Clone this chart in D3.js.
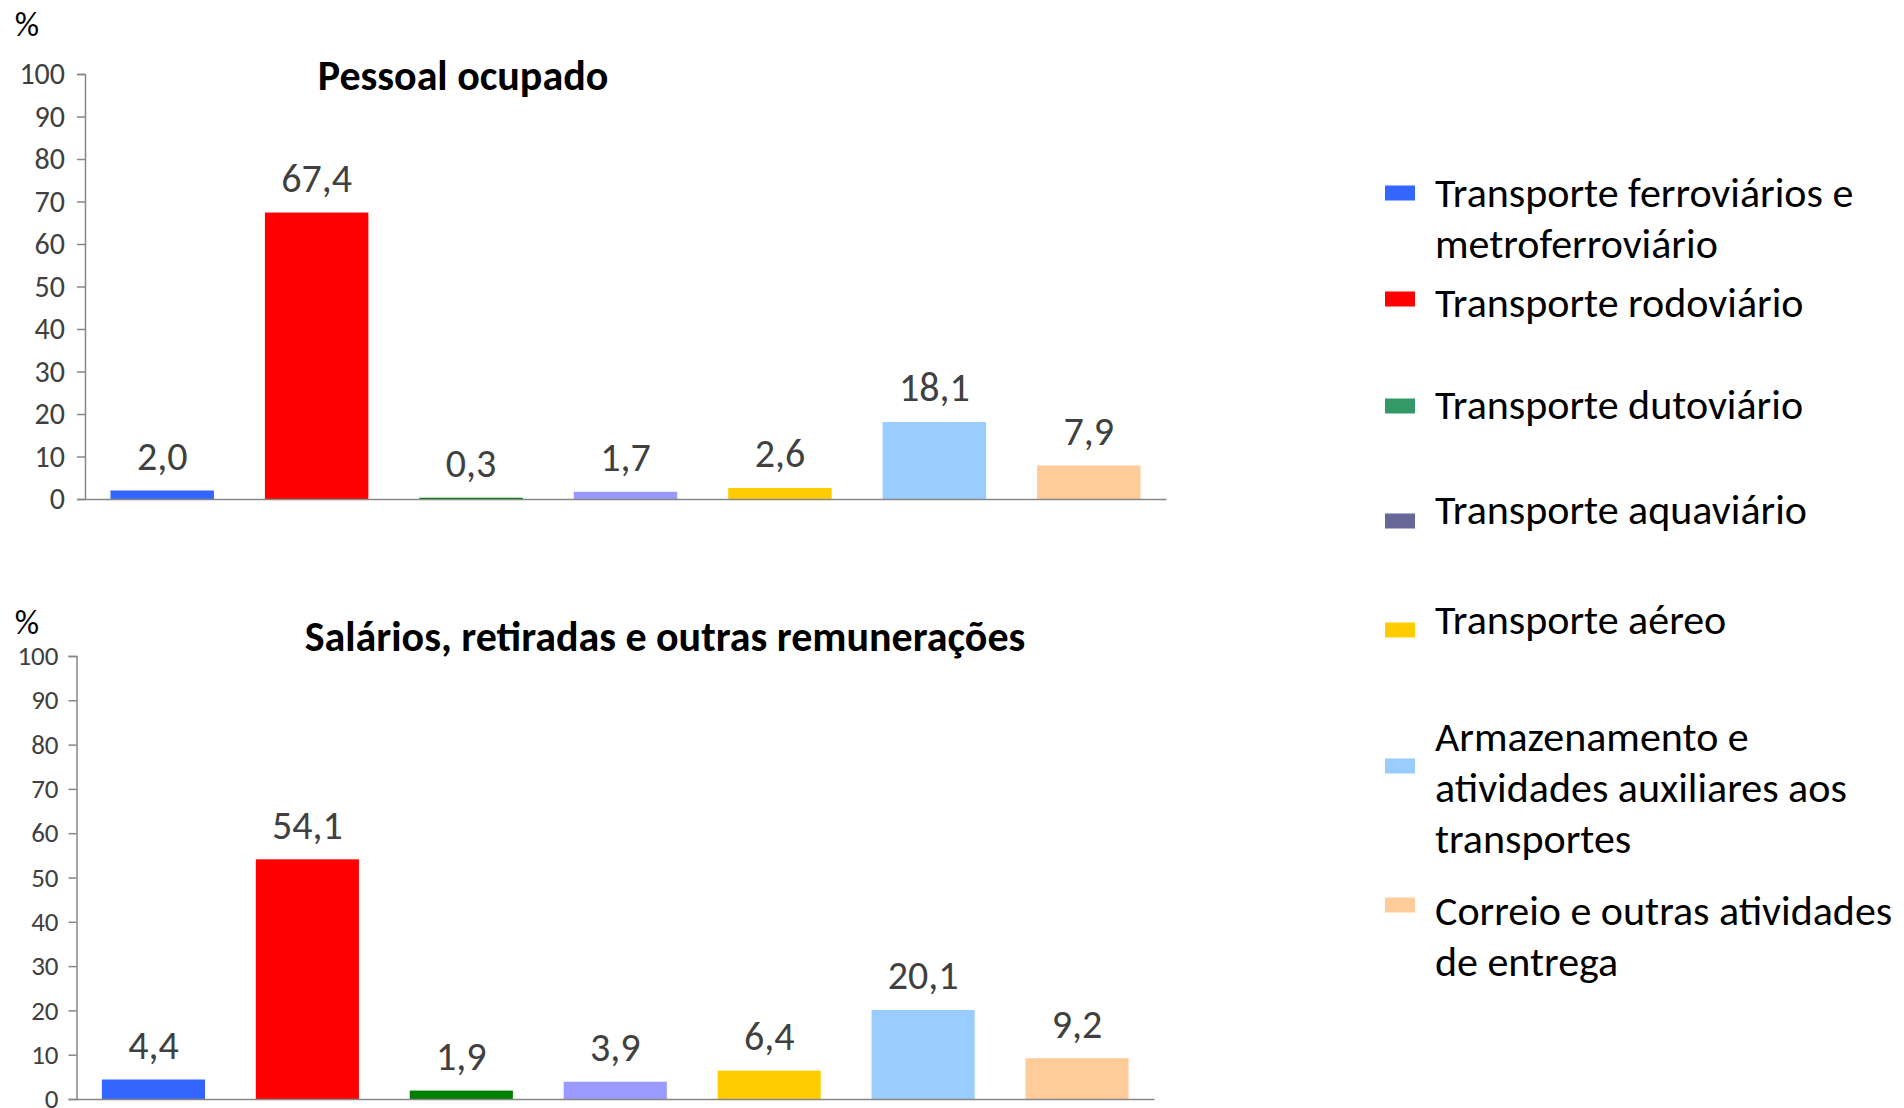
<!DOCTYPE html>
<html>
<head>
<meta charset="utf-8">
<script src="https://cdn.jsdelivr.net/npm/d3@7"></script>
<style>
  body { margin: 0; background: #fff; }
  svg text { font-family: Carlito, Lato, sans-serif; }
</style>
</head>
<body>
<div id="chartwrap"></div>
<script>

const categories = [
  'Transporte ferroviários e\nmetroferroviário',
  'Transporte rodoviário',
  'Transporte dutoviário',
  'Transporte aquaviário',
  'Transporte aéreo',
  'Armazenamento e\natividades auxiliares aos\ntransportes',
  'Correio e outras atividades\nde entrega'
];
const pessoal = [2.0, 67.4, 0.3, 1.7, 2.6, 18.1, 7.9];
const salarios = [4.4, 54.1, 1.9, 3.9, 6.4, 20.1, 9.2];
const yTicks = [0, 10, 20, 30, 40, 50, 60, 70, 80, 90, 100];
const titles = ['Pessoal ocupado', 'Salários, retiradas e outras remunerações'];

const barColors = ['#3366FF', '#FF0000', '#008000', '#9999FF', '#FFCC00', '#99CCFF', '#FFCC99'];
const legendColors = ['#3366FF', '#FF0000', '#339966', '#666699', '#FFCC00', '#99CCFF', '#FFCC99'];

const WIDTH = 1904;
const HEIGHT = 1108;

// panel layout, in page pixels
const panels = [
  { values: pessoal, title: titles[0], x0: 85, x1: 1166, yTop: 74, yBot: 499,
    titleX: 463, titleY: 75, pctY: 24, tickFont: 30, tickPad: 12 },
  { values: salarios, title: titles[1], x0: 76.5, x1: 1154, yTop: 656, yBot: 1099,
    titleX: 665, titleY: 636, pctY: 622, tickFont: 27, tickPad: 10 }
];

const legend = {
  swatchX: 1385, swatchW: 30, swatchH: 15, textX: 1435, lineH: 51,
  swatchY: [193, 299, 406, 521, 630, 766, 905],
  textY: [192, 302, 404, 509, 619, 736, 910]
};

const fmt = d3.formatLocale({ decimal: ',', thousands: '.', grouping: [3], currency: ['', ''] }).format('.1f');

const svg = d3.select('#chartwrap')
  .append('svg')
  .attr('width', WIDTH)
  .attr('height', HEIGHT);

panels.forEach(p => {
  const x = d3.scaleBand()
    .domain(d3.range(categories.length))
    .range([p.x0, p.x1])
    .paddingInner(0.33)
    .paddingOuter(0.165);

  const y = d3.scaleLinear()
    .domain([0, 100])
    .range([p.yBot, p.yTop]);

  const g = svg.append('g');

  const yAxis = g.append('g')
    .attr('transform', `translate(${p.x0},0)`)
    .call(d3.axisLeft(y).tickValues(yTicks).tickSize(8).tickPadding(p.tickPad));

  yAxis.selectAll('path, line').attr('stroke', '#868686').attr('stroke-width', 1.5);
  yAxis.selectAll('text')
    .attr('fill', '#404040')
    .style('font-size', p.tickFont + 'px');

  g.selectAll('rect.bar')
    .data(p.values)
    .enter()
    .append('rect')
    .attr('class', 'bar')
    .attr('x', (d, i) => x(i))
    .attr('width', x.bandwidth())
    .attr('y', d => y(d))
    .attr('height', d => y(0) - y(d))
    .attr('fill', (d, i) => barColors[i]);

  const xAxis = g.append('g')
    .attr('transform', `translate(0,${p.yBot})`)
    .call(d3.axisBottom(x).tickSize(0).tickFormat(''));
  xAxis.select('path').attr('stroke', '#868686').attr('stroke-width', 1.5);

  g.selectAll('text.val')
    .data(p.values)
    .enter()
    .append('text')
    .attr('class', 'val')
    .attr('x', (d, i) => x(i) + x.bandwidth() / 2)
    .attr('y', d => y(d) - 35)
    .attr('dy', '0.36em')
    .attr('text-anchor', 'middle')
    .attr('fill', '#404040')
    .style('font-size', '40px')
    .text(d => fmt(d));

  g.append('text')
    .attr('x', p.titleX)
    .attr('y', p.titleY)
    .attr('dy', '0.36em')
    .attr('text-anchor', 'middle')
    .style('font-size', '42px')
    .style('font-weight', 'bold')
    .text(p.title);

  g.append('text')
    .attr('x', 27)
    .attr('y', p.pctY)
    .attr('dy', '0.36em')
    .attr('text-anchor', 'middle')
    .style('font-size', '34px')
    .text('%');
});

const lg = svg.append('g');

lg.selectAll('rect')
  .data(legendColors)
  .enter()
  .append('rect')
  .attr('x', legend.swatchX)
  .attr('y', (d, i) => legend.swatchY[i] - legend.swatchH / 2)
  .attr('width', legend.swatchW)
  .attr('height', legend.swatchH)
  .attr('fill', d => d);

lg.selectAll('text')
  .data(categories)
  .enter()
  .append('text')
  .attr('x', legend.textX)
  .attr('y', (d, i) => legend.textY[i])
  .style('font-size', '42px')
  .attr('fill', '#000')
  .each(function(d) {
    d3.select(this).selectAll('tspan')
      .data(d.split('\n'))
      .enter()
      .append('tspan')
      .attr('x', legend.textX)
      .attr('dy', (t, j) => j === 0 ? '0.36em' : legend.lineH)
      .text(t => t);
  });

</script>
</body>
</html>
